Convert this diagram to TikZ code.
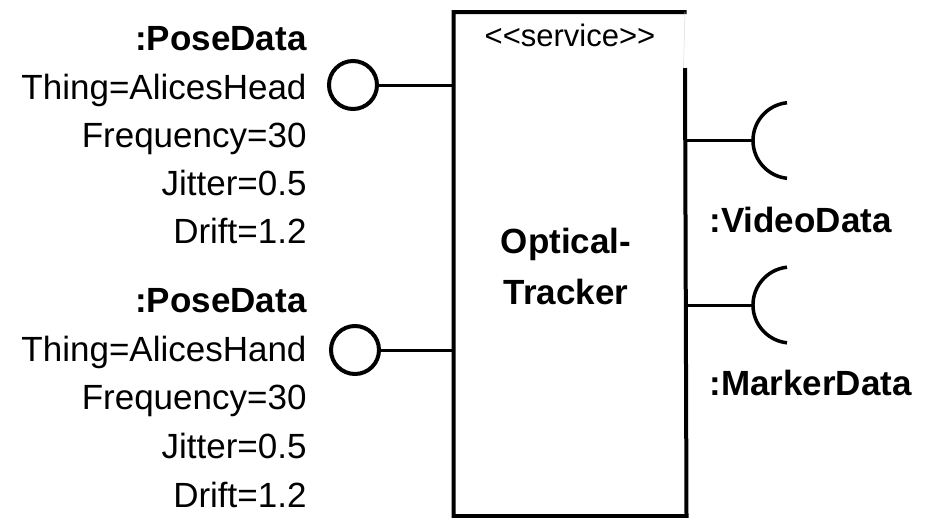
\documentclass[tikz,border=0pt]{standalone}
\usepackage{fontspec}
\setmainfont{Liberation Sans}
\begin{document}
\begin{tikzpicture}[x=1pt,y=-1pt, line width=3pt, line join=miter,
  lbl/.style={anchor=base east, inner sep=0pt, font=\fontsize{35}{42}\selectfont},
  blbl/.style={anchor=base east, inner sep=0pt, font=\fontsize{35}{42}\selectfont\bfseries},
  rlbl/.style={anchor=base west, inner sep=0pt, font=\fontsize{35}{42}\selectfont\bfseries},
  clbl/.style={anchor=base, inner sep=0pt, font=\fontsize{35}{42}\selectfont\bfseries},
  iface/.style={draw, circle, minimum size=48pt, inner sep=0pt, line width=4pt},
  border/.style={line width=4pt}]
\useasboundingbox (0,0) rectangle (926,517);
% component box
\node[draw=none, minimum width=230pt, minimum height=501pt, inner sep=0pt] (box) at (570,264) {};
\coordinate (gap) at (685,68);
\draw[border] (box.north east) -- (box.north west) -- (box.south west) -- (box.south east) -- (gap);
\draw[line width=0.5pt, black!15] ([xshift=-1.5pt]box.north east) -- ([xshift=-1.5pt]gap);
\node[anchor=base, inner sep=0pt, font=\fontsize{31}{36}\selectfont] (st) at (570,46) {<\kern0pt<service>\kern0pt>};
\node[clbl] (opt) at (566,253) {Optical-};
\node[clbl] (trk) at (566,304) {Tracker};
% provided interfaces
\node[iface] (c1) at (353,85) {};
\node[iface] (c2) at (355,350) {};
\draw (c1) -- (c1 -| box.west);
\draw (c2) -- (c2 -| box.west);
% left labels
\node[blbl] (p1) at (308,50) {:PoseData};
\node[lbl] (t1) at (308,99) {Thing=AlicesHead};
\node[lbl] (f1) at (308,147) {Frequency=30};
\node[lbl] (j1) at (308,195) {Jitter=0.5};
\node[lbl] (d1) at (308,243) {Drift=1.2};
\node[blbl] (p2) at (308,312) {:PoseData};
\node[lbl] (t2) at (308,361) {Thing=AlicesHand};
\node[lbl] (f2) at (308,409) {Frequency=30};
\node[lbl] (j2) at (308,458) {Jitter=0.5};
\node[lbl] (d2) at (308,507) {Drift=1.2};
% required interfaces
\coordinate (s1) at (753,140.5);
\coordinate (s2) at (753,305);
\draw (s1 -| box.east) -- (s1);
\draw (s2 -| box.east) -- (s2);
\draw[line width=3.5pt] ([xshift=34pt,yshift=37.8pt]s1) arc[start angle=96, end angle=264, radius=38pt];
\draw[line width=3.5pt] ([xshift=34pt,yshift=37.8pt]s2) arc[start angle=96, end angle=264, radius=38pt];
\node[rlbl] (vd) at (708,232) {:VideoData};
\node[rlbl] (md) at (708,395) {:MarkerData};
\end{tikzpicture}
\end{document}
